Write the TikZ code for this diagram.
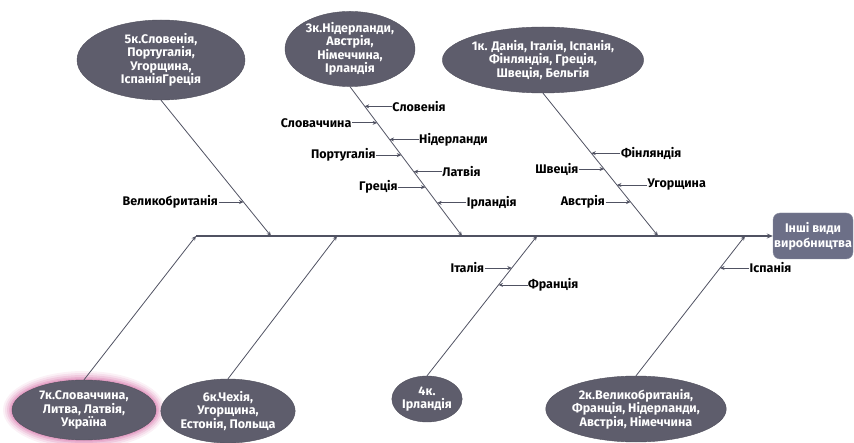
\documentclass[tikz,border=0pt]{standalone}
\usepackage{fontspec}
\setsansfont{Fira Sans}
\usetikzlibrary{positioning,arrows.meta,shapes.geometric,calc,backgrounds}
\definecolor{fishBone}{RGB}{80,82,98}
\definecolor{fishHead}{RGB}{94,93,108}
\definecolor{fishBox}{RGB}{108,111,135}
\definecolor{fishGlow}{RGB}{222,140,185}
\tikzset{
  fish/cause/.style={ellipse, fill=fishHead, draw=fishHead!85!black, text=white,
                     align=center, inner sep=0pt,
                     font=\fontsize{12.5}{13.4}\selectfont\sffamily\bfseries},
  fish/effect/.style={rounded corners=7pt, fill=fishBox, draw=fishBox!80!white,
                      text=white, align=center, inner sep=0pt,
                      minimum width=80pt, minimum height=46pt,
                      font=\fontsize{12.5}{15}\selectfont\sffamily\bfseries},
  fish/spine/.style={-{Stealth[length=6pt,width=5pt]}, line width=2.4pt, draw=fishBone},
  fish/bone/.style={-{Stealth[length=4.5pt,width=4pt]}, line width=0.8pt, draw=fishBone},
  fish/lbl/.style={font=\fontsize{12.5}{14}\selectfont\sffamily\bfseries, inner sep=0.5pt},
}

\begin{document}
\begin{tikzpicture}[x=1pt, y=-1pt]
  \useasboundingbox (0,0) rectangle (854,443);

  % ---------------- head and spine ----------------
  \node[fish/effect] (effect) at (813,236) {Інші види\\виробництва};
  \coordinate (tail) at (196,236);
  \draw[fish/spine] (tail) -- (effect.west);

  % junctions on the spine
  \coordinate (j5) at (271,236);
  \coordinate (j3) at (462,236);
  \coordinate (j1) at (658,236);
  \coordinate (j6) at (337,236);
  \coordinate (j4) at (537,236);
  \coordinate (j2) at (745,236);

  % ---------------- upper causes ----------------
  \node[fish/cause, minimum width=168pt, minimum height=80pt] (c5) at (161,60)
    {5к.Словенія,\\Португалія,\\Угорщина,\\ІспаніяГреція};
  \node[fish/cause, minimum width=130pt, minimum height=68pt] (c3) at (350,49)
    {3к.Нідерланди,\\Австрія,\\Німеччина,\\Ірландія};
  \node[fish/cause, minimum width=188pt, minimum height=66pt] (c1) at (543,60)
    {1к. Данія, Італія, Іспанія,\\Фінляндія, Греція,\\Швеція, Бельгія};

  \draw[fish/bone] (c5.south) -- (j5);
  \draw[fish/bone] (c3.south) -- (j3);
  \draw[fish/bone] (c1.south) -- (j1);

  % ---------------- lower causes ----------------
  \node[fish/cause, minimum width=144pt, minimum height=60pt] (c7) at (84,410)
    {7к.Словаччина,\\Литва, Латвія,\\Україна};
  \begin{scope}[on background layer]
    \foreach \g/\o in {9/0.12, 7/0.18, 5/0.26, 3/0.38, 1.5/0.5}
      \fill[fishGlow, opacity=\o] (c7.center) ellipse [x radius=72+\g, y radius=30+\g];
  \end{scope}
  \node[fish/cause, minimum width=130pt, minimum height=64pt] (c6) at (228,411)
    {6к.Чехія,\\Угорщина,\\Естонія, Польща};
  \node[fish/cause, minimum width=70pt, minimum height=46pt] (c4) at (427,399)
    {4к.\\Ірландія};
  \node[fish/cause, minimum width=176pt, minimum height=66pt] (c2) at (636,409)
    {2к.Великобританія,\\Франція, Нідерланди,\\Австрія, Німеччина};

  \draw[fish/bone] (c7.north) -- (tail);
  \draw[fish/bone] (c6.north) -- (j6);
  \draw[fish/bone] (c4.north) -- (j4);
  \draw[fish/bone] (c2.north) -- (j2);

  % ---------------- points on the bones ----------------
  \coordinate (b51) at ($(c5.south)!0.75!(j5)$);
  \foreach \t [count=\i] in {0.131,0.242,0.353,0.458,0.569,0.673,0.778}
    \coordinate (b3\i) at ($(c3.south)!\t!(j3)$);
  \foreach \t [count=\i] in {0.420,0.531,0.643,0.762}
    \coordinate (b1\i) at ($(c1.south)!\t!(j1)$);
  \coordinate (b41) at ($(c4.north)!0.771!(j4)$);
  \coordinate (b42) at ($(c4.north)!0.650!(j4)$);
  \coordinate (b21) at ($(c2.north)!0.771!(j2)$);

  % ---------------- sub-causes ----------------
  \node[fish/lbl, left=25pt of b51] (gb5) {Великобританія};
  \draw[fish/bone] (gb5) -- (b51);

  \node[fish/lbl, right=27pt of b31] (si3) {Словенія};
  \node[fish/lbl, left=25pt of b32]  (sk3) {Словаччина};
  \node[fish/lbl, right=29pt of b33] (nl3) {Нідерланди};
  \node[fish/lbl, left=25pt of b34]  (pt3) {Португалія};
  \node[fish/lbl, right=28pt of b35] (lv3) {Латвія};
  \node[fish/lbl, left=27pt of b36]  (gr3) {Греція};
  \node[fish/lbl, right=29pt of b37] (ie3) {Ірландія};
  \foreach \n/\b in {si3/b31, sk3/b32, nl3/b33, pt3/b34, lv3/b35, gr3/b36, ie3/b37}
    \draw[fish/bone] (\n) -- (\b);

  \node[fish/lbl, right=29pt of b11] (fi1) {Фінляндія};
  \node[fish/lbl, left=25pt of b12]  (se1) {Швеція};
  \node[fish/lbl, right=30pt of b13] (hu1) {Угорщина};
  \node[fish/lbl, left=25pt of b14]  (at1) {Австрія};
  \foreach \n/\b in {fi1/b11, se1/b12, hu1/b13, at1/b14}
    \draw[fish/bone] (\n) -- (\b);

  \node[fish/lbl, left=27pt of b41]  (it4) {Італія};
  \node[fish/lbl, right=29pt of b42] (fr4) {Франція};
  \node[fish/lbl, right=29pt of b21] (es2) {Іспанія};
  \foreach \n/\b in {it4/b41, fr4/b42, es2/b21}
    \draw[fish/bone] (\n) -- (\b);

\end{tikzpicture}
\end{document}
